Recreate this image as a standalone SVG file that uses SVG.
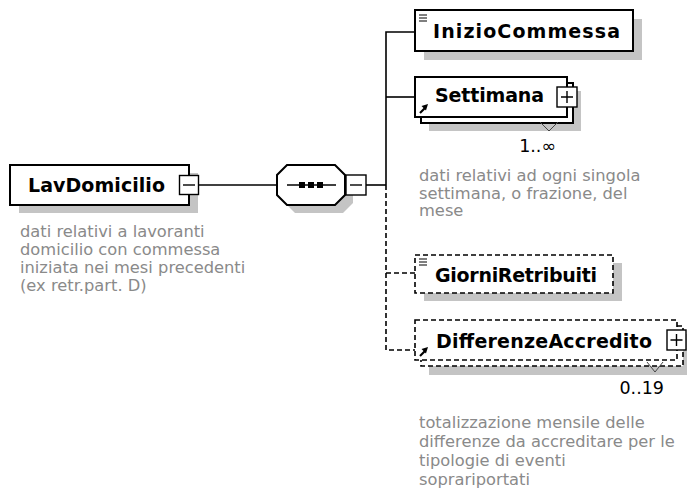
<svg xmlns="http://www.w3.org/2000/svg" width="687" height="494" viewBox="0 0 687 494">
<style>
.box{fill:#fff;stroke:#000;stroke-width:2}
.dbox{fill:#fff;stroke:#000;stroke-width:1.6;stroke-dasharray:5 3}
.shadow{fill:#c4c4c4}
.name{font-family:"DejaVu Sans",sans-serif;font-weight:bold;font-size:19px;fill:#000}
.desc{font-family:"DejaVu Sans",sans-serif;font-size:16.3px;fill:#8a8a8a}
.occ{font-family:"DejaVu Sans",sans-serif;font-size:17.5px;fill:#000}
.line{fill:none;stroke:#000;stroke-width:1.6}
.dline{fill:none;stroke:#000;stroke-width:1.6;stroke-dasharray:5 3}
.exp{fill:#fff;stroke:#000;stroke-width:1.4}
.sym{fill:none;stroke:#000;stroke-width:1.4}
.tri{fill:none;stroke:#444;stroke-width:1}
</style>
<defs>
<g id="textIcon"><path d="M0 0h8M0 3h8M0 6h8" stroke="#000" stroke-width="1.2" fill="none"/></g>
<g id="refArrow"><path d="M1 9L6 4" stroke="#000" stroke-width="2.2" fill="none"/><path d="M9 0L2.5 2L7 6.5Z" fill="#000"/></g>
</defs>

<g id="connectors">
<path class="line" d="M199 185H277"/>
<path class="line" d="M366 185H386"/>
<path class="line" d="M386 185V32H415"/>
<path class="line" d="M386 97H415"/>
<path class="dline" d="M386 185V350H415"/>
<path class="dline" d="M386 273H415"/>
</g>

<g id="LavDomicilio">
<rect class="shadow" x="19" y="173" width="179" height="40"/>
<rect class="box" x="10" y="165" width="179" height="40"/>
<text class="name" x="28" y="192" textLength="137" lengthAdjust="spacing">LavDomicilio</text>
<rect class="exp" x="179.5" y="175.5" width="19" height="19"/>
<path class="sym" d="M183 185H195"/>
<text class="desc"><tspan x="20" y="237">dati relativi a lavoranti</tspan><tspan x="20" y="255">domicilio con commessa</tspan><tspan x="20" y="273">iniziata nei mesi precedenti</tspan><tspan x="20" y="290.5">(ex retr.part. D)</tspan></text>
</g>

<g id="sequence">
<polygon class="shadow" points="295,173 343,173 353,183 353,203 343,213 295,213 285,203 285,183"/>
<polygon class="box" points="287,165 335,165 345,175 345,195 335,205 287,205 277,195 277,175"/>
<path class="line" d="M287 185H336"/>
<rect x="299" y="182" width="6" height="6" fill="#000"/>
<rect x="308" y="182" width="6" height="6" fill="#000"/>
<rect x="317" y="182" width="6" height="6" fill="#000"/>
<rect class="exp" x="346" y="175" width="20" height="20"/>
<path class="sym" d="M350 185H362"/>
</g>

<g id="InizioCommessa">
<rect class="shadow" x="424" y="19" width="218" height="41"/>
<rect class="box" x="415" y="10" width="218" height="41"/>
<use href="#textIcon" x="419" y="15"/>
<text class="name" x="433" y="38" textLength="187" lengthAdjust="spacing">InizioCommessa</text>
</g>

<g id="Settimana">
<rect class="shadow" x="429" y="91" width="152" height="40"/>
<rect class="box" x="421" y="83" width="152" height="40"/>
<rect class="box" x="415" y="77" width="152" height="40"/>
<use href="#refArrow" x="419" y="104"/>
<text class="name" x="435" y="102" textLength="109" lengthAdjust="spacing">Settimana</text>
<rect class="exp" x="557" y="87" width="20" height="20"/>
<path class="sym" d="M561 97H573M567 91V103"/>
<polyline class="tri" points="540,122 549,131 558,122"/>
<text class="occ" x="556" y="152" text-anchor="end">1..∞</text>
<text class="desc"><tspan x="419" y="181">dati relativi ad ogni singola</tspan><tspan x="419" y="198.5">settimana, o frazione, del</tspan><tspan x="419" y="216">mese</tspan></text>
</g>

<g id="GiorniRetribuiti">
<rect class="shadow" x="424" y="263" width="198" height="38"/>
<rect class="dbox" x="415" y="255" width="198" height="38"/>
<use href="#textIcon" x="419" y="259"/>
<text class="name" x="435" y="282" textLength="162" lengthAdjust="spacing">GiorniRetribuiti</text>
</g>

<g id="DifferenzeAccredito">
<rect class="shadow" x="429" y="334" width="262" height="41"/>
<rect class="dbox" x="421" y="326" width="262" height="40"/>
<rect class="dbox" x="415" y="320" width="262" height="40"/>
<use href="#refArrow" x="419" y="347"/>
<text class="name" x="436" y="348" textLength="216" lengthAdjust="spacing">DifferenzeAccredito</text>
<rect class="exp" x="667" y="330" width="19" height="20"/>
<path class="sym" d="M670.5 340H682.5M676.5 334V346"/>
<polyline class="tri" points="647,362 655,372 663,362"/>
<text class="occ" x="664" y="394" text-anchor="end">0..19</text>
<text class="desc"><tspan x="419" y="428">totalizzazione mensile delle</tspan><tspan x="419" y="447">differenze da accreditare per le</tspan><tspan x="419" y="466">tipologie di eventi</tspan><tspan x="419" y="485">soprariportati</tspan></text>
</g>
</svg>
